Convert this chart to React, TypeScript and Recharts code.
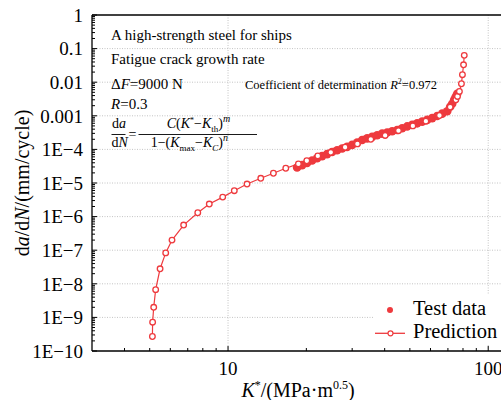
import { ScatterChart, Scatter, XAxis, YAxis, ReferenceLine, Legend } from "recharts";

const RED = "#ee3a3e";
const FONT = "'Liberation Serif', 'Times New Roman', serif";

// Prediction curve (K*, da/dN)
const predK = [5.12, 5.13, 5.18, 5.27, 5.48, 5.76, 6.09, 6.75, 7.65, 8.47, 9.54, 10.57, 11.83, 13.36, 14.94, 16.67, 18.64, 20.08, 22.13, 24.83, 28.18, 31.42, 35.38, 40.17, 45.19, 51.33, 57.6, 64.97, 71.42, 75.1, 76.2, 77.5, 78.9, 79.6, 80.4, 80.9];
const predRate = [2.7e-10, 7.2e-10, 2.0e-9, 6.7e-9, 2.8e-8, 8.3e-8, 2.0e-7, 5.6e-7, 1.3e-6, 2.36e-6, 3.8e-6, 5.9e-6, 9.3e-6, 1.38e-5, 1.95e-5, 2.75e-5, 3.7e-5, 4.6e-5, 6.4e-5, 8.2e-5, 1.16e-4, 1.46e-4, 2.0e-4, 2.6e-4, 3.6e-4, 5.0e-4, 6.9e-4, 1.02e-3, 1.82e-3, 3.0e-3, 3.77e-3, 5.3e-3, 9.0e-3, 1.67e-2, 3.3e-2, 6.3e-2];

// Test data band
const testK = [18.43, 19.26, 20.13, 21.04, 22.0, 22.99, 24.03, 25.12, 26.26, 27.45, 28.69, 29.99, 31.35, 32.77, 34.25, 35.8, 37.42, 39.12, 40.89, 42.74, 44.67, 46.7, 48.81, 51.02, 53.33, 55.75, 58.27, 60.91, 63.67, 66.55, 69.56, 71.42, 72.7, 74.0, 75.0, 76.0];
const testRate = [2.9e-5, 3.4e-5, 3.98e-5, 4.66e-5, 5.46e-5, 6.31e-5, 7.24e-5, 8.36e-5, 9.46e-5, 1.06e-4, 1.19e-4, 1.36e-4, 1.61e-4, 1.9e-4, 2.13e-4, 2.36e-4, 2.64e-4, 2.94e-4, 3.19e-4, 3.47e-4, 3.77e-4, 4.27e-4, 4.83e-4, 5.42e-4, 5.97e-4, 6.71e-4, 7.55e-4, 8.54e-4, 9.86e-4, 1.16e-3, 1.36e-3, 1.86e-3, 2.28e-3, 3.0e-3, 3.69e-3, 4.54e-3];

const yMajor = [1, 0.1, 0.01, 0.001, 1e-4, 1e-5, 1e-6, 1e-7, 1e-8, 1e-9, 1e-10];
const yLabels = ["1", "0.1", "0.01", "0.001", "1E\u22124", "1E\u22125", "1E\u22126", "1E\u22127", "1E\u22128", "1E\u22129", "1E\u221210"];
const xMajor = [10, 100];
const xLabels = ["10", "100"];

const predData = predK.map((k, i) => ({ k, rate: predRate[i] }));
const testData = testK.map((k, i) => ({ k, rate: testRate[i] }));

// log minor ticks 2..9 per decade
const yTicks: number[] = [];
for (let e = -10; e <= 0; e++) {
  yTicks.push(Math.pow(10, e));
  if (e < 0) for (let m = 2; m <= 9; m++) yTicks.push(m * Math.pow(10, e));
}
const xTicks = [4, 5, 6, 7, 8, 9, 10, 20, 30, 40, 50, 60, 70, 80, 90, 100];

const Y_MARGIN = 9;
const X_MARGIN = 10;

const majorIndex = (list: number[], v: number) =>
  list.findIndex((m) => Math.abs(Math.log10(m) - Math.log10(v)) < 1e-6);

const YTick = (props: any) => {
  const { x, y, payload } = props;
  const idx = majorIndex(yMajor, payload.value);
  const ax = x + Y_MARGIN;
  return (
    <g>
      <line x1={ax} x2={ax + (idx >= 0 ? 5 : 3)} y1={y} y2={y} stroke="#000" strokeWidth={1} />
      {idx >= 0 && (
        <text x={x} y={y} dy="0.36em" textAnchor="end" fontSize={19} fontFamily={FONT} fill="#000">
          {yLabels[idx]}
        </text>
      )}
    </g>
  );
};

const XTick = (props: any) => {
  const { x, y, payload } = props;
  const idx = majorIndex(xMajor, payload.value);
  const ay = y - X_MARGIN;
  return (
    <g>
      <line x1={x} x2={x} y1={ay} y2={ay - (idx >= 0 ? 5 : 3)} stroke="#000" strokeWidth={1} />
      {idx >= 0 && (
        <text x={x} y={ay + 23.5} textAnchor="middle" fontSize={19} fontFamily={FONT} fill="#000">
          {xLabels[idx]}
        </text>
      )}
    </g>
  );
};

const OpenDot = (props: any) => (
  <circle cx={props.cx} cy={props.cy} r={2.8} fill="#fff" stroke={RED} strokeWidth={1.3} />
);
const FilledDot = (props: any) => <circle cx={props.cx} cy={props.cy} r={4.3} fill={RED} />;

const LegendBox = () => (
  <svg width={127} height={50} style={{ display: "block", background: "#fff" }}>
    <circle cx={16} cy={15} r={3} fill={RED} />
    <text x={39} y={20} fontSize={20.5} fontFamily={FONT} fill="#000">Test data</text>
    <line x1={1} x2={31} y1={38.3} y2={38.3} stroke={RED} strokeWidth={1.3} />
    <circle cx={16.5} cy={38.3} r={2.5} fill="#fff" stroke={RED} strokeWidth={1.2} />
    <text x={39} y={43.3} fontSize={20.5} fontFamily={FONT} fill="#000">Prediction</text>
  </svg>
);

const gridY = yMajor.slice(1, -1);

export default function App() {
  return (
    <div style={{ position: "fixed", left: 0, top: 0, width: 501, height: 400, overflow: "hidden", background: "#fff" }}>
      <ScatterChart width={504} height={400} margin={{ top: 15, right: 0, bottom: 0, left: 0 }}>
        <XAxis
          type="number"
          dataKey="k"
          scale="log"
          domain={[3, 115]}
          allowDataOverflow
          ticks={xTicks}
          interval={0}
          tick={<XTick />}
          tickLine={false}
          tickSize={0}
          tickMargin={X_MARGIN}
          height={49}
          axisLine={{ stroke: "#000", strokeWidth: 1.3 }}
        />
        <YAxis
          type="number"
          dataKey="rate"
          scale="log"
          domain={[1e-10, 1]}
          allowDataOverflow
          ticks={yTicks}
          interval={0}
          tick={<YTick />}
          tickLine={false}
          tickSize={0}
          tickMargin={Y_MARGIN}
          width={92}
          axisLine={{ stroke: "#000", strokeWidth: 1.3 }}
        />
        {gridY.map((v) => (
          <ReferenceLine key={`gy${v}`} y={v} stroke="#c4c4c4" strokeDasharray="1 1.5" />
        ))}
        {xMajor.map((v) => (
          <ReferenceLine key={`gx${v}`} x={v} stroke="#c4c4c4" strokeDasharray="1 1.5" />
        ))}
        <ReferenceLine y={1} stroke="#000" strokeWidth={1.3} />
        <Scatter name="Test data" data={testData} fill={RED} shape={FilledDot} isAnimationActive={false} />
        <Scatter
          name="Prediction"
          data={predData}
          fill={RED}
          line={{ stroke: RED, strokeWidth: 1.2 }}
          shape={OpenDot}
          isAnimationActive={false}
        />
        <Legend
          layout="vertical"
          align="center"
          verticalAlign="middle"
          content={() => <LegendBox />}
          wrapperStyle={{ position: "absolute", left: 374, top: 295, width: 127, height: 50 }}
        />
      </ScatterChart>
      <svg
        width={501}
        height={400}
        style={{ position: "absolute", left: 0, top: 0, pointerEvents: "none" }}
        fontFamily={FONT}
        fill="#000"
      >
        <text x={111} y={40} fontSize={15}>A high-strength steel for ships</text>
        <text x={111} y={63.5} fontSize={15}>Fatigue crack growth rate</text>
        <text x={111} y={89} fontSize={15}>
          Δ<tspan fontStyle="italic">F</tspan>=9000 N
        </text>
        <text x={111} y={108.5} fontSize={15}>
          <tspan fontStyle="italic">R</tspan>=0.3
        </text>
        <text x={245} y={89.3} fontSize={12.5}>
          Coefficient of determination <tspan fontStyle="italic">R</tspan>
          <tspan dy={-5} fontSize={8}>2</tspan>
          <tspan dy={5}>=0.972</tspan>
        </text>
        {/* da/dN = fraction */}
        <text x={112} y={128.3} fontSize={14}>
          d<tspan fontStyle="italic">a</tspan>
        </text>
        <line x1={111.5} x2={125.5} y1={134.5} y2={134.5} stroke="#000" strokeWidth={0.9} />
        <text x={111.5} y={147.3} fontSize={14}>
          d<tspan fontStyle="italic">N</tspan>
        </text>
        <text x={128.5} y={139.3} fontSize={14}>=</text>
        <line x1={138.5} x2={257} y1={134.5} y2={134.5} stroke="#000" strokeWidth={0.9} />
        <text x={166.7} y={128.3} fontSize={14}>
          <tspan fontStyle="italic">C</tspan>(<tspan fontStyle="italic">K</tspan>
          <tspan dy={-5} fontSize={8}>*</tspan>
          <tspan dy={5}>−</tspan>
          <tspan fontStyle="italic">K</tspan>
          <tspan dy={4} fontSize={9}>th</tspan>
          <tspan dy={-4}>)</tspan>
          <tspan dy={-6} fontSize={10} fontStyle="italic">m</tspan>
        </text>
        <text x={150.7} y={147.3} fontSize={14}>
          1−(<tspan fontStyle="italic">K</tspan>
          <tspan dy={4} fontSize={9}>max</tspan>
          <tspan dy={-4}>−</tspan>
          <tspan fontStyle="italic">K</tspan>
          <tspan dy={4} fontSize={9} fontStyle="italic">C</tspan>
          <tspan dy={-4}>)</tspan>
          <tspan dy={-6} fontSize={10} fontStyle="italic">n</tspan>
        </text>
        {/* axis titles */}
        <text x={28.5} y={183} fontSize={20} textAnchor="middle" transform="rotate(-90, 28.5, 183)">
          d<tspan fontStyle="italic">a</tspan>/d<tspan fontStyle="italic">N</tspan>/(mm/cycle)
        </text>
        <text x={298} y={396.5} fontSize={20} textAnchor="middle">
          <tspan fontStyle="italic">K</tspan>
          <tspan dy={-8} fontSize={12}>*</tspan>
          <tspan dy={8}>/(MPa·m</tspan>
          <tspan dy={-8} fontSize={12}>0.5</tspan>
          <tspan dy={8}>)</tspan>
        </text>
      </svg>
    </div>
  );
}
